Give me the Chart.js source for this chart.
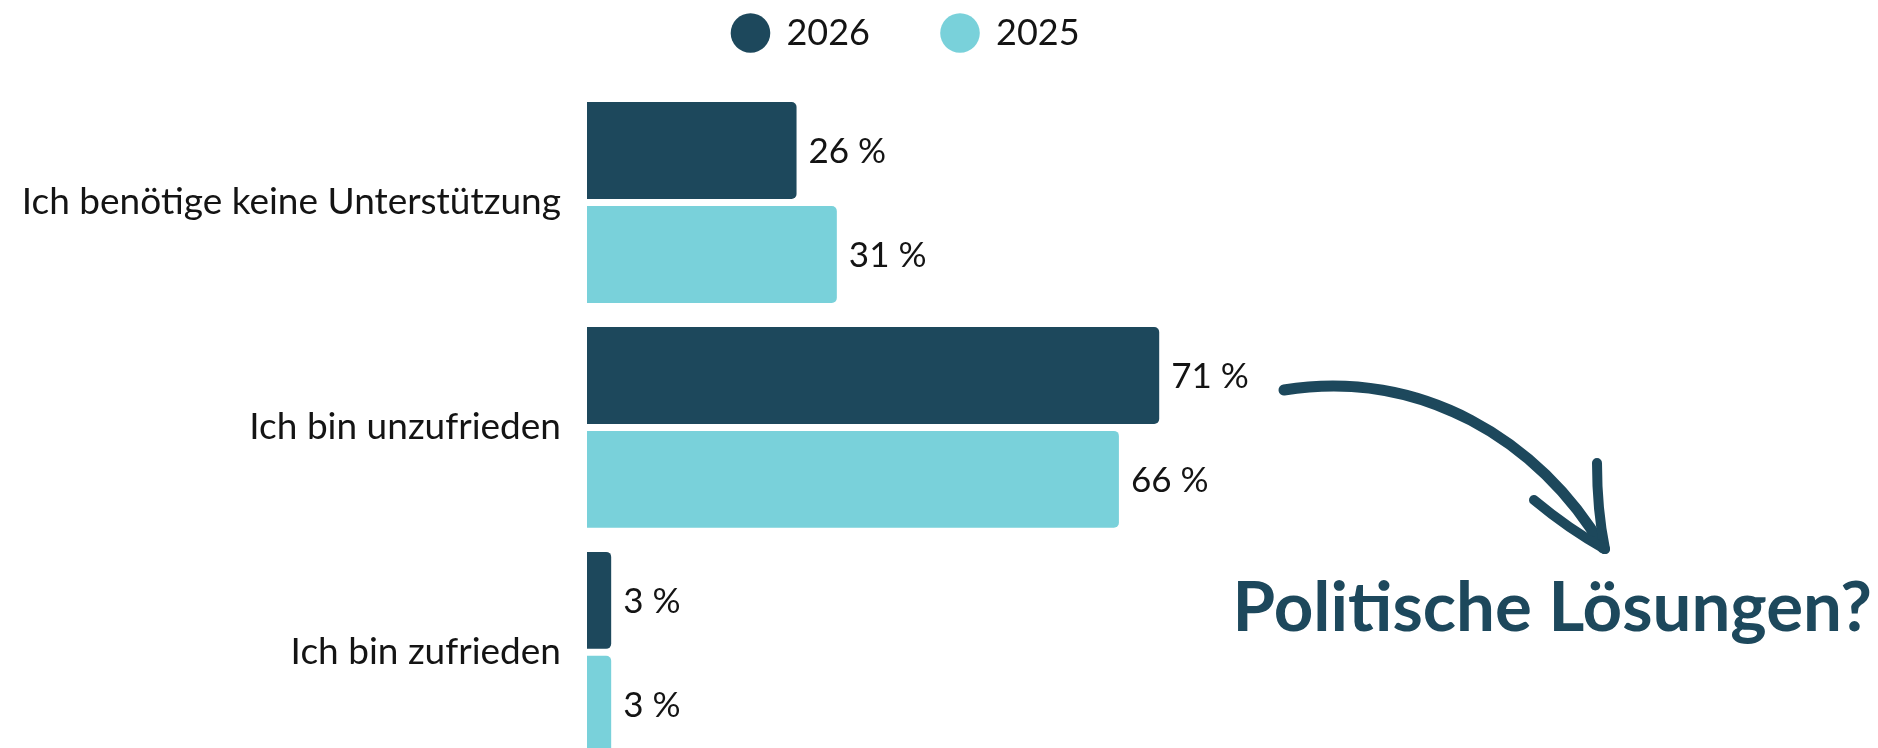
<!DOCTYPE html>
<html>
<head>
<meta charset="utf-8">
<script src="https://cdn.jsdelivr.net/npm/chart.js@4.4.1/dist/chart.umd.min.js"></script>
<style>
  html, body { margin: 0; padding: 0; background: #ffffff; overflow: hidden; }
  #wrap { width: 1878px; height: 748px; overflow: hidden; position: relative; }
  canvas { display: block; }
</style>
</head>
<body>
<div id="wrap"><canvas id="c" width="1878" height="813"></canvas></div>
<script>
const categories = ['Ich benötige keine Unterstützung', 'Ich bin unzufrieden', 'Ich bin zufrieden'];
const seriesNames = ['2026', '2025'];
const values2026 = [26, 71, 3];
const values2025 = [31, 66, 3];
const calloutText = 'Politische Lösungen?';

const DARK = '#1d485c';
const LIGHT = '#79d1da';
const TEXT = '#141414';
const FONT = 'Lato';

const valueLabels = {
  id: 'valueLabels',
  afterDatasetsDraw(chart) {
    const ctx = chart.ctx;
    ctx.save();
    ctx.font = '35px ' + FONT;
    ctx.fillStyle = TEXT;
    ctx.textAlign = 'left';
    ctx.textBaseline = 'middle';
    chart.data.datasets.forEach((ds, di) => {
      const meta = chart.getDatasetMeta(di);
      meta.data.forEach((bar, i) => {
        ctx.fillText(ds.data[i] + ' %', bar.x + 12, bar.y + 1);
      });
    });
    ctx.restore();
  }
};

const legendShift = {
  id: 'legendShift',
  afterLayout(chart) {
    const lg = chart.legend;
    if (lg) { lg.top -= 57; }
  }
};

const callout = {
  id: 'callout',
  afterDraw(chart) {
    const ctx = chart.ctx;
    ctx.save();
    ctx.strokeStyle = DARK;
    ctx.lineCap = 'round';
    ctx.lineJoin = 'round';
    ctx.lineWidth = 11;
    ctx.beginPath();
    ctx.moveTo(1284, 390);
    ctx.bezierCurveTo(1420, 368, 1540, 440, 1603, 548);
    ctx.stroke();
    ctx.lineWidth = 10;
    ctx.beginPath();
    ctx.moveTo(1597, 463);
    ctx.quadraticCurveTo(1597, 510, 1605, 549);
    ctx.stroke();
    ctx.beginPath();
    ctx.moveTo(1534, 500);
    ctx.quadraticCurveTo(1570, 530, 1605, 549);
    ctx.stroke();
    ctx.font = 'bold 69px ' + FONT;
    ctx.fillStyle = DARK;
    ctx.textAlign = 'right';
    ctx.textBaseline = 'alphabetic';
    ctx.fillText(calloutText, 1872, 631);
    ctx.restore();
  }
};

new Chart(document.getElementById('c'), {
  type: 'bar',
  data: {
    labels: categories,
    datasets: [
      { label: seriesNames[0], data: values2026, backgroundColor: DARK, borderRadius: 5, borderSkipped: 'start' },
      { label: seriesNames[1], data: values2025, backgroundColor: LIGHT, borderRadius: 5, borderSkipped: 'start' }
    ]
  },
  options: {
    indexAxis: 'y',
    responsive: false,
    animation: false,
    categoryPercentage: 0.924,
    barPercentage: 0.933,
    layout: { padding: { top: 0, right: 66, bottom: 0, left: 0 } },
    plugins: {
      legend: {
        display: true,
        position: 'top',
        align: 'center',
        maxHeight: 90,
        labels: {
          usePointStyle: true,
          pointStyle: 'circle',
          boxHeight: 28,
          padding: 72,
          color: TEXT,
          font: { family: FONT, size: 36 }
        }
      },
      tooltip: { enabled: false }
    },
    scales: {
      x: { display: false, min: 0, max: 152 },
      y: {
        grid: { display: false, drawTicks: false },
        border: { display: false },
        ticks: { color: TEXT, padding: 26, font: { family: FONT, size: 37 } },
        afterFit(scale) { scale.width = 587; }
      }
    }
  },
  plugins: [valueLabels, legendShift, callout]
});
</script>
</body>
</html>
